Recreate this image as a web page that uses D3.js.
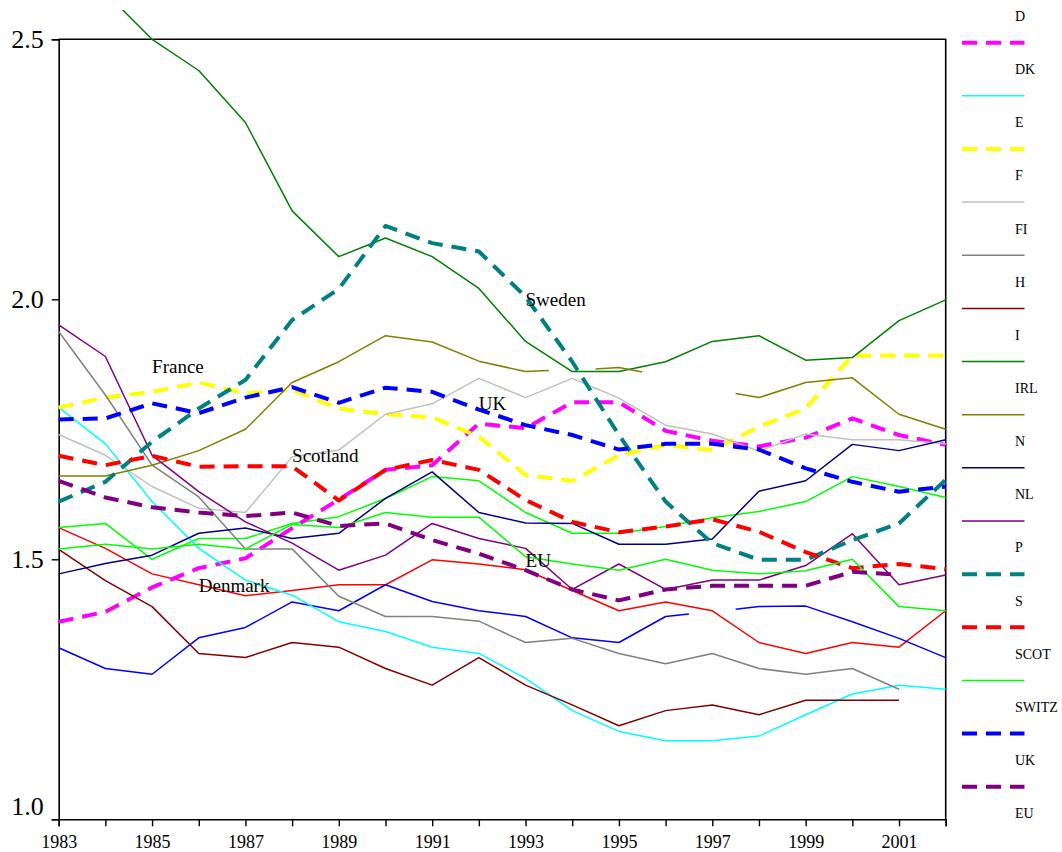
<!DOCTYPE html>
<html>
<head>
<meta charset="utf-8">
<script src="https://cdn.jsdelivr.net/npm/d3@7"></script>
<style>
  html, body { margin: 0; padding: 0; background: #fff; }
  svg { display: block; }
  text { font-family: "Liberation Serif", "Times New Roman", serif; fill: #000; }
</style>
</head>
<body>
<svg id="chart" width="1062" height="852"></svg>
<script>
// ---------- data ----------
const years = [1983,1984,1985,1986,1987,1988,1989,1990,1991,1992,1993,1994,1995,1996,1997,1998,1999,2000,2001,2002];
const yTicks = [1.0, 1.5, 2.0, 2.5];
const xLabelYears = [1983,1985,1987,1989,1991,1993,1995,1997,1999,2001];

const codes = ["A","B","D","DK","E","F","FI","H","I","IRL","N","NL","P","S","SCOT","SWITZ","UK","EU"];
const colors = ["#FF0000","#00FF00","#0000FF","#FF00FF","#00FFFF","#FFFF00","#C0C0C0","#808080","#800000","#008000","#808000","#000080","#800080","#008080","#FF0000","#00FF00","#0000FF","#800080"];
const dashedCodes = ["DK","F","S","SCOT","UK","EU"];

const valA    = [1.561,1.521,1.472,1.451,1.430,1.440,1.451,1.451,1.499,1.491,1.480,1.440,1.401,1.418,1.401,1.340,1.319,1.340,1.331,1.401];
const valB    = [1.561,1.569,1.500,1.540,1.540,1.569,1.582,1.617,1.659,1.651,1.590,1.550,1.550,1.563,1.580,1.592,1.611,1.659,1.640,1.619];
// Germany: gap between 1996.5 and 1997.5 (as drawn)
const valD    = [[1983,1.330],[1984,1.290],[1985,1.279],[1986,1.349],[1987,1.369],[1988,1.418],[1989,1.401],[1990,1.451],[1991,1.419],[1992,1.401],[1993,1.390],[1994,1.349],[1995,1.340],[1996,1.390],[1996.5,1.395],null,[1997.5,1.404],[1998,1.409],[1999,1.410],[2000,1.380],[2001,1.348],[2002,1.311]];
const valDK   = [1.380,1.399,1.446,1.483,1.502,1.560,1.615,1.672,1.681,1.761,1.752,1.802,1.802,1.747,1.728,1.717,1.734,1.771,1.739,1.720];
const valE    = [1.792,1.722,1.611,1.521,1.460,1.431,1.380,1.361,1.331,1.319,1.271,1.209,1.169,1.151,1.151,1.160,1.201,1.241,1.258,1.250];
const valF    = [1.792,1.811,1.822,1.840,1.819,1.826,1.790,1.779,1.773,1.736,1.662,1.651,1.700,1.720,1.710,1.755,1.790,1.892,1.892,1.892];
const valFI   = [1.740,1.700,1.640,1.598,1.590,1.697,1.710,1.779,1.799,1.848,1.811,1.848,1.810,1.758,1.741,1.708,1.741,1.730,1.730,1.722];
const valH    = [1.938,1.816,1.681,1.620,1.520,1.520,1.429,1.390,1.390,1.381,1.340,1.348,1.319,1.299,1.319,1.290,1.279,1.290,1.250,null];
const valI    = [1.519,1.459,1.409,1.319,1.311,1.340,1.331,1.290,1.258,1.311,1.258,1.220,1.180,1.209,1.220,1.201,1.229,1.229,1.229,null];
const valIRL  = [2.750,2.590,2.500,2.440,2.340,2.170,2.082,2.118,2.082,2.021,1.919,1.861,1.861,1.880,1.919,1.930,1.883,1.888,1.959,1.999];
// Norway: broken line as drawn
const valN    = [[1983,1.660],[1984,1.660],[1985,1.681],[1986,1.709],[1987,1.750],[1988,1.840],[1989,1.880],[1990,1.930],[1991,1.918],[1992,1.881],[1993,1.861],[1993.5,1.863],null,[1994.5,1.866],[1995,1.869],[1995.5,1.860],null,[1997.5,1.819],[1998,1.811],[1999,1.840],[2000,1.849],[2001,1.779],[2002,1.750]];
const valNL   = [1.472,1.492,1.508,1.550,1.560,1.540,1.550,1.617,1.668,1.590,1.570,1.569,1.529,1.529,1.539,1.631,1.651,1.721,1.709,1.730];
const valP    = [1.951,1.890,1.700,1.630,1.572,1.531,1.479,1.508,1.569,1.540,1.521,1.442,1.491,1.442,1.460,1.460,1.488,1.549,1.451,1.470];
const valS    = [1.611,1.649,1.726,1.790,1.845,1.960,2.020,2.141,2.108,2.092,2.005,1.880,1.739,1.611,1.531,1.499,1.499,1.537,1.569,1.653];
const valSCOT = [1.699,1.681,1.699,1.678,1.679,1.679,1.613,1.672,1.691,1.672,1.614,1.572,1.552,1.563,1.577,1.553,1.514,1.483,1.491,1.481];
const valSWITZ= [1.520,1.529,1.520,1.529,1.520,1.567,1.561,1.590,1.581,1.581,1.505,1.491,1.479,1.500,1.479,1.472,1.478,1.500,1.409,1.401];
const valUK   = [1.769,1.771,1.800,1.781,1.811,1.831,1.801,1.830,1.822,1.788,1.758,1.739,1.711,1.722,1.722,1.711,1.675,1.649,1.630,1.640];
const valEU   = [1.651,1.619,1.600,1.590,1.583,1.590,1.564,1.569,1.537,1.511,1.479,1.442,1.421,1.442,1.449,1.449,1.449,1.476,1.470,null];

const seriesValues = [valA,valB,valD,valDK,valE,valF,valFI,valH,valI,valIRL,valN,valNL,valP,valS,valSCOT,valSWITZ,valUK,valEU];

// annotations
const noteText  = ["France","Sweden","UK","Scotland","EU","Denmark"];
const noteYear  = [1985, 1993, 1992, 1988, 1993, 1986];
const noteValue = [1.859, 1.987, 1.787, 1.688, 1.486, 1.438];

// ---------- drawing ----------
const svg = d3.select("#chart");
const L = 58.7, R = 945.7, T = 39.3, B = 819.3;

const x = d3.scaleLinear().domain([1983, 2002]).range([L, R]);
const y = d3.scaleLinear().domain([1.0, 2.5]).range([B, T]);

function toPoints(v) {
  const first = v.find(d => d !== null);
  if (Array.isArray(first)) return v;
  return v.map((val, i) => val === null ? null : [years[i], val]);
}

svg.append("defs").append("clipPath").attr("id", "clip")
  .append("rect").attr("x", 0).attr("y", 10).attr("width", 1062).attr("height", 842);

// frame (top + right)
svg.append("path")
  .attr("d", `M${L},${T}H${R}V${B}`)
  .attr("fill", "none").attr("stroke", "#000").attr("stroke-width", 1.6);

// axes
const yAxis = d3.axisLeft(y).tickValues(yTicks).tickFormat(d3.format(".1f")).tickSize(7).tickPadding(8);
const gy = svg.append("g").attr("transform", `translate(${L},0)`).call(yAxis);
gy.selectAll("text").style("font-size", "26px");
gy.selectAll(".tick").filter(d => d === 1.0).select("text").attr("y", -13);

const xAxis = d3.axisBottom(x).tickValues(years)
  .tickFormat(d => xLabelYears.includes(d) ? String(d) : "")
  .tickSize(7).tickPadding(9);
const gx = svg.append("g").attr("transform", `translate(0,${B})`).call(xAxis);
gx.selectAll("text").style("font-size", "18px");

[gx, gy].forEach(g => {
  g.attr("font-family", null);
  g.select(".domain").attr("stroke", "#000").attr("stroke-width", 1.6);
  g.selectAll(".tick line").attr("stroke", "#000").attr("stroke-width", 1.4);
  g.selectAll("text").attr("fill", "#000").style("font-family", '"Liberation Serif","Times New Roman",serif');
});

// lines
const line = d3.line().defined(d => d !== null).x(d => x(d[0])).y(d => y(d[1]));
const gLines = svg.append("g").attr("clip-path", "url(#clip)");
codes.forEach((c, i) => {
  const isDash = dashedCodes.includes(c);
  gLines.append("path")
    .datum(toPoints(seriesValues[i]))
    .attr("d", line)
    .attr("fill", "none")
    .attr("stroke", colors[i])
    .attr("stroke-width", isDash ? 4 : 1.5)
    .attr("stroke-dasharray", isDash ? "15,9" : null)
    .attr("stroke-linejoin", "round");
});

// annotations
noteText.forEach((t, i) => {
  svg.append("text")
    .attr("x", x(noteYear[i]))
    .attr("y", y(noteValue[i]))
    .style("font-size", "19px")
    .text(t);
});

// legend: each sample sits just above its label; entries above "D" fall off the top
const legendStep = 53.15;
const legendFirstVisible = codes.indexOf("D");
const gLeg = svg.append("g");
codes.forEach((c, i) => {
  const ly = 16 + (i - legendFirstVisible) * legendStep;
  const sy = ly - 26.5;
  const isDash = dashedCodes.includes(c);
  if (sy > 0) {
    gLeg.append("line")
      .attr("x1", 962).attr("x2", 1024.5)
      .attr("y1", sy).attr("y2", sy)
      .attr("stroke", colors[i])
      .attr("stroke-width", isDash ? 4 : 1.5)
      .attr("stroke-dasharray", isDash ? "15,9" : null);
  }
  if (ly > 5) {
    gLeg.append("text")
      .attr("x", 1015).attr("y", ly)
      .attr("dy", "0.35em")
      .style("font-size", "14px")
      .text(c);
  }
});
</script>
</body>
</html>
